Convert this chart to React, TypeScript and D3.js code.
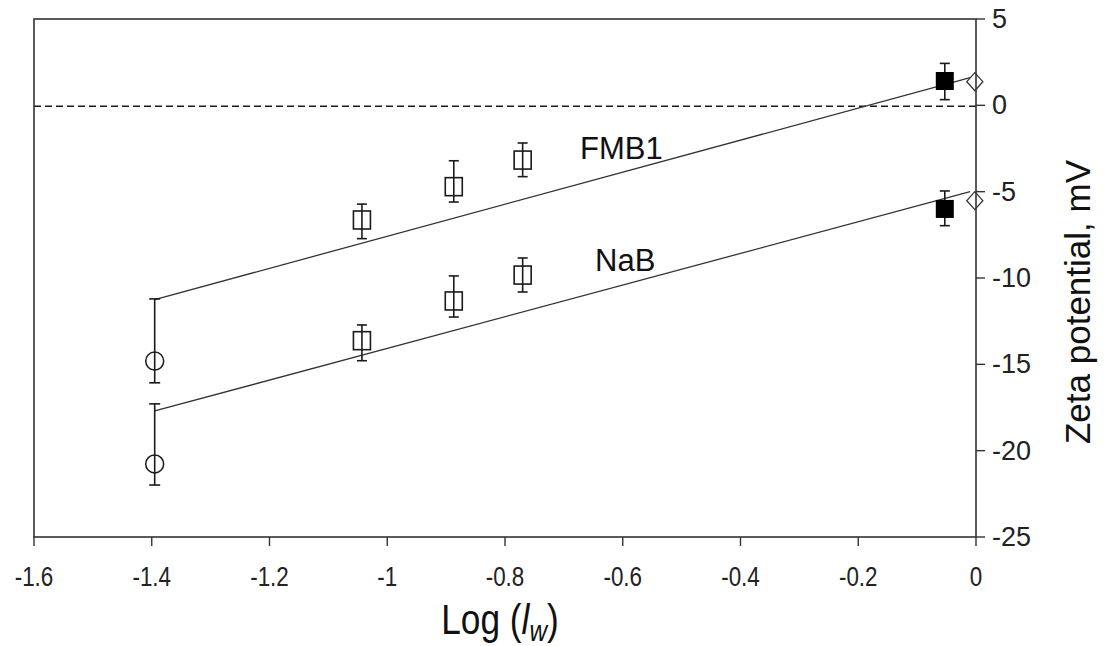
import React, { useEffect } from "react";
import * as d3 from "d3";

// ---- data ----
const xTicks = [-1.6, -1.4, -1.2, -1, -0.8, -0.6, -0.4, -0.2, 0];
const yTicks = [5, 0, -5, -10, -15, -20, -25];

// x positions of each marker group
const circleX = [-1.395];
const squareX = [-1.043, -0.887, -0.77];
const filledX = [-0.053];
const diamondX = [-0.002];

// FMB1 series
const fmb1Circle = [-14.81];
const fmb1CircleLo = [-16.07];
const fmb1CircleHi = [-11.21];
const fmb1Square = [-6.64, -4.71, -3.17];
const fmb1SquareLo = [-7.72, -5.6, -4.13];
const fmb1SquareHi = [-5.72, -3.21, -2.18];
const fmb1Filled = [1.41];
const fmb1FilledLo = [0.33];
const fmb1FilledHi = [2.43];
const fmb1Diamond = [1.37];

// NaB series
const nabCircle = [-20.77];
const nabCircleLo = [-21.99];
const nabCircleHi = [-17.29];
const nabSquare = [-13.63, -11.33, -9.83];
const nabSquareLo = [-14.79, -12.26, -10.81];
const nabSquareHi = [-12.72, -9.88, -8.84];
const nabFilled = [-6.0];
const nabFilledLo = [-6.97];
const nabFilledHi = [-4.96];
const nabDiamond = [-5.52];

// regression lines
const fitX = [-1.395, -0.01];
const fmb1Fit = [-11.25, 1.6];
const nabFit = [-17.7, -5.0];

const W = 1108;
const H = 646;
const FONT = "'Liberation Sans', Arial, sans-serif";
const INK = "#1a1a1a";

export default function App() {
  useEffect(() => {
    document.body.style.margin = "0";
  }, []);

  const x = d3.scaleLinear().domain([-1.6, 0]).range([34, 976]);
  const y = d3.scaleLinear().domain([-25, 5]).range([537, 19]);
  const line = d3
    .line<[number, number]>()
    .x((d) => x(d[0]))
    .y((d) => y(d[1]));

  const errBar = (xv: number, lo: number, hi: number, key: string, cap = 5.5) => (
    <g key={key} stroke={INK} strokeWidth={1.6}>
      <line x1={x(xv)} x2={x(xv)} y1={y(lo)} y2={y(hi)} />
      <line x1={x(xv) - cap} x2={x(xv) + cap} y1={y(lo)} y2={y(lo)} />
      <line x1={x(xv) - cap} x2={x(xv) + cap} y1={y(hi)} y2={y(hi)} />
    </g>
  );

  const series = [
    {
      name: "fmb1",
      circle: fmb1Circle, cLo: fmb1CircleLo, cHi: fmb1CircleHi,
      square: fmb1Square, sLo: fmb1SquareLo, sHi: fmb1SquareHi,
      filled: fmb1Filled, fLo: fmb1FilledLo, fHi: fmb1FilledHi,
      diamond: fmb1Diamond, fit: fmb1Fit,
    },
    {
      name: "nab",
      circle: nabCircle, cLo: nabCircleLo, cHi: nabCircleHi,
      square: nabSquare, sLo: nabSquareLo, sHi: nabSquareHi,
      filled: nabFilled, fLo: nabFilledLo, fHi: nabFilledHi,
      diamond: nabDiamond, fit: nabFit,
    },
  ];

  const sq = 18;
  const dmx = 8;
  const dmy = 9;

  return (
    <svg width={W} height={H} style={{ display: "block", background: "#fff" }} fontFamily={FONT}>
      {/* zero dashed line */}
      <line x1={x(-1.6)} x2={x(0)} y1={y(0) + 1} y2={y(0) + 1} stroke={INK} strokeWidth={1.5} strokeDasharray="7,4" />

      {/* regression lines */}
      {series.map((s) => (
        <path
          key={"fit" + s.name}
          d={line(fitX.map((xv, i) => [xv, s.fit[i]]) as [number, number][]) || ""}
          fill="none"
          stroke="#333"
          strokeWidth={1.3}
        />
      ))}

      {/* markers */}
      {series.map((s) => (
        <g key={"m" + s.name}>
          {circleX.map((xv, i) => (
            <g key={"c" + i}>
              {errBar(xv, s.cLo[i], s.cHi[i], "ce" + i)}
              <circle cx={x(xv)} cy={y(s.circle[i])} r={9} fill="none" stroke={INK} strokeWidth={1.5} />
            </g>
          ))}
          {squareX.map((xv, i) => (
            <g key={"s" + i}>
              {errBar(xv, s.sLo[i], s.sHi[i], "se" + i, 5)}
              <rect x={x(xv) - sq / 2 + 0.5} y={y(s.square[i]) - sq / 2} width={sq - 1} height={sq} fill="none" stroke={INK} strokeWidth={1.6} />
            </g>
          ))}
          {filledX.map((xv, i) => (
            <g key={"f" + i}>
              {errBar(xv, s.fLo[i], s.fHi[i], "fe" + i, 5)}
              <rect x={x(xv) - sq / 2} y={y(s.filled[i]) - sq / 2} width={sq} height={sq} fill="#000" />
            </g>
          ))}
          {diamondX.map((xv, i) => {
            const cx = x(xv);
            const cy = y(s.diamond[i]);
            return (
              <path
                key={"d" + i}
                d={`M${cx - dmx},${cy} L${cx},${cy - dmy} L${cx + dmx},${cy} L${cx},${cy + dmy} Z`}
                fill="none"
                stroke="#333"
                strokeWidth={1.3}
              />
            );
          })}
        </g>
      ))}

      {/* frame */}
      <rect x={x(-1.6)} y={y(5)} width={x(0) - x(-1.6)} height={y(-25) - y(5)} fill="none" stroke="#333" strokeWidth={1.6} />

      {/* x ticks */}
      {xTicks.map((t) => (
        <g key={"xt" + t}>
          <line x1={x(t)} x2={x(t)} y1={y(-25)} y2={y(-25) + 9} stroke="#333" strokeWidth={1.4} />
          <text
            transform={`translate(${x(t)}, 586) scale(0.8, 1)`}
            textAnchor="middle"
            fontSize={28}
            fill="#222"
          >
            {String(t)}
          </text>
        </g>
      ))}

      {/* y ticks (right side) */}
      {yTicks.map((t) => (
        <g key={"yt" + t}>
          <line x1={x(0)} x2={x(0) + 9} y1={y(t)} y2={y(t)} stroke="#333" strokeWidth={1.4} />
          <text x={x(0) + 16} y={y(t) + 9} textAnchor="start" fontSize={27} fill="#222">
            {String(t)}
          </text>
        </g>
      ))}

      {/* series labels */}
      <text x={580} y={159} fontSize={31} fill="#111">FMB1</text>
      <text x={595} y={271} fontSize={31} fill="#111">NaB</text>

      {/* axis titles */}
      <text
        transform="translate(500, 634) scale(0.84, 1)"
        textAnchor="middle"
        fontSize={42}
        fill="#111"
      >
        Log (<tspan fontStyle="italic">l</tspan>
        <tspan fontStyle="italic" fontSize={29} dy={7}>w</tspan>
        <tspan dy={-7}>)</tspan>
      </text>
      <text
        transform={`translate(1090, 302) rotate(-90)`}
        textAnchor="middle"
        fontSize={35}
        fill="#111"
      >
        Zeta potential, mV
      </text>
    </svg>
  );
}
